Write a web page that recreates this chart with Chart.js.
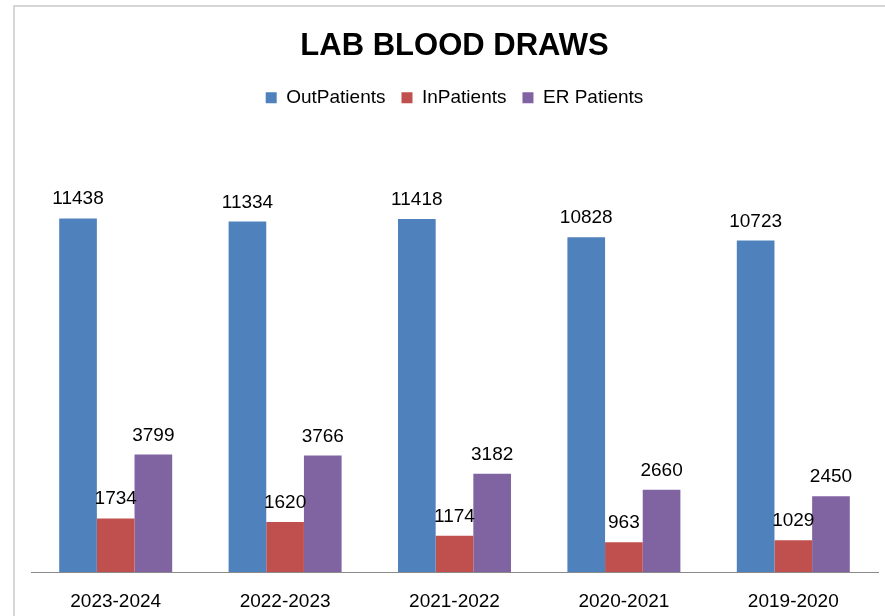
<!DOCTYPE html>
<html>
<head>
<meta charset="utf-8">
<title>Lab Blood Draws</title>
<script src="https://cdn.jsdelivr.net/npm/chart.js@4.4.1/dist/chart.umd.min.js"></script>
<style>
    html, body { margin: 0; padding: 0; background: #fff; }
    #wrap { position: relative; width: 885px; height: 616px; overflow: hidden; }
    #frame {
        position: absolute; left: 13px; top: 5px; right: -5px; bottom: -5px;
        border-top: 2px solid #d6d6d6; border-left: 2px solid #d6d6d6;
    }
    #chart { position: absolute; left: 0; top: 0; }
</style>
</head>
<body>
<div id="wrap">
    <div id="frame"></div>
    <canvas id="chart" width="885" height="616"></canvas>
</div>
<script>
const years = ['2023-2024', '2022-2023', '2021-2022', '2020-2021', '2019-2020'];
const outPatients = [11438, 11334, 11418, 10828, 10723];
const inPatients = [1734, 1620, 1174, 963, 1029];
const erPatients = [3799, 3766, 3182, 2660, 2450];

const FONT = "'Liberation Sans', Arial, sans-serif";

// draws the number above every bar
const valueLabels = {
    id: 'valueLabels',
    afterDatasetsDraw(chart) {
        const ctx = chart.ctx;
        ctx.save();
        ctx.font = '19px ' + FONT;
        ctx.fillStyle = '#000';
        ctx.textAlign = 'center';
        ctx.textBaseline = 'alphabetic';
        chart.data.datasets.forEach((ds, i) => {
            chart.getDatasetMeta(i).data.forEach((bar, j) => {
                ctx.fillText(String(ds.data[j]), bar.x, bar.y - 14);
            });
        });
        ctx.restore();
    }
};

// empty box under the legend so the plot starts lower
const legendGap = {
    id: 'legendGap',
    beforeInit(chart) {
        Chart.layouts.addBox(chart, {
            position: 'top',
            weight: 0,
            fullSize: true,
            options: {},
            isHorizontal() { return true; },
            update(maxWidth) {
                this.width = maxWidth;
                this.height = 22;
            },
            draw() {}
        });
    }
};

new Chart(document.getElementById('chart'), {
    type: 'bar',
    data: {
        labels: years,
        datasets: [
            { label: 'OutPatients', data: outPatients, backgroundColor: '#4f81bd' },
            { label: 'InPatients', data: inPatients, backgroundColor: '#c0504d' },
            { label: 'ER Patients', data: erPatients, backgroundColor: '#8064a2' }
        ]
    },
    options: {
        responsive: false,
        animation: false,
        categoryPercentage: 0.667,
        barPercentage: 1.0,
        layout: {
            padding: { top: 0, left: 31, right: 7, bottom: 0 }
        },
        scales: {
            x: {
                grid: { display: false, drawTicks: false },
                border: { display: true, color: '#8a8a8a', width: 1 },
                ticks: {
                    color: '#000',
                    padding: 18,
                    font: { family: FONT, size: 19 }
                },
                afterFit(scale) {
                    scale.height = 44;
                }
            },
            y: {
                display: false,
                min: 0,
                max: 14000
            }
        },
        plugins: {
            title: {
                display: true,
                text: 'LAB BLOOD DRAWS',
                color: '#000',
                font: { family: FONT, size: 31, weight: 'bold' },
                padding: { top: 28, bottom: 7 }
            },
            legend: {
                labels: {
                    color: '#000',
                    boxWidth: 11,
                    boxHeight: 11,
                    padding: 16,
                    font: { family: FONT, size: 19 }
                }
            },
            tooltip: { enabled: false }
        }
    },
    plugins: [valueLabels, legendGap]
});
</script>
</body>
</html>
